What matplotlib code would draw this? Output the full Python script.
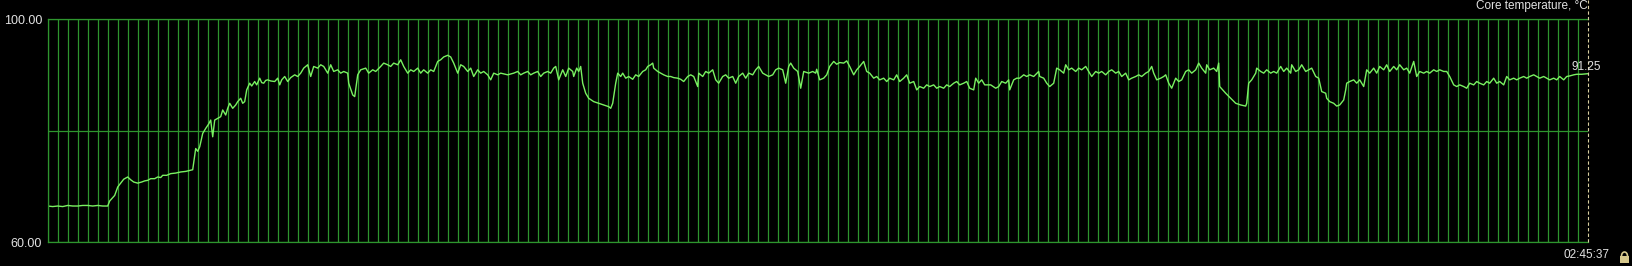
import matplotlib
matplotlib.use("Agg")
import matplotlib.pyplot as plt
from matplotlib.lines import Line2D
from matplotlib.patches import Rectangle, Arc
import numpy as np

# Core temperature log (seconds from start of window, degrees C)
seconds = [
    0, 5, 10, 15, 20, 25, 30, 35, 40, 45, 50, 55, 60, 62, 64, 67, 70, 73, 76, 80,
    83, 86, 90, 94, 97, 100, 103, 107, 110, 113, 115, 119, 123, 128, 133, 138, 143, 145, 147, 148,
    150, 152, 155, 158, 161, 163, 165, 167, 170, 173, 175, 178, 180, 182, 185, 188, 190, 193, 195, 197,
    199, 202, 204, 207, 209, 212, 214, 216, 218, 220, 223, 227, 230, 232, 234, 237, 240, 243, 247, 250,
    253, 256, 260, 263, 266, 270, 273, 276, 280, 283, 286, 290, 293, 296, 300, 301, 305, 307, 310, 313,
    318, 321, 325, 328, 333, 336, 340, 343, 346, 350, 353, 356, 360, 363, 366, 370, 373, 376, 380, 383,
    386, 390, 393, 396, 400, 403, 406, 410, 413, 416, 420, 423, 426, 430, 433, 436, 440, 443, 446, 450,
    453, 460, 466, 470, 473, 476, 480, 483, 486, 490, 493, 496, 500, 503, 506,
    508, 511, 515, 518, 521, 525, 526, 529, 531, 533, 535, 538, 541, 546, 551, 556, 561, 563, 565, 568,
    570, 573, 575, 578, 581, 585, 588, 591, 595, 598, 600, 603, 605, 606, 610, 613, 616, 620, 623, 626,
    630, 633, 636, 640, 643, 646, 650, 651, 655, 658, 661, 665, 668, 671, 675, 678, 681, 685, 688, 691,
    695, 698, 701, 705, 708, 711, 715, 718, 721, 725, 728, 731, 735, 738, 741, 743, 746, 750, 753, 756,
    761, 765, 768,
    769, 772, 776, 779, 782, 786, 789, 792, 796, 799, 802, 806, 809, 812, 816, 819, 822, 826, 829, 832,
    836, 839, 842, 846, 849, 852, 856, 859, 862, 866, 869, 872, 876, 879, 882, 886, 889, 892, 896, 899,
    902, 906, 909, 912, 916, 919, 922, 926, 928, 931, 934, 937, 943, 948, 951, 954, 958, 961, 962, 966,
    969, 972, 976, 979, 982, 986, 991, 992, 996, 999, 1002, 1006, 1009, 1012, 1016,
    1018, 1021, 1024, 1028, 1031, 1034, 1038, 1041, 1044, 1048, 1051, 1054, 1058, 1061, 1064, 1068, 1071, 1074, 1078, 1081,
    1084, 1088, 1091, 1094, 1098, 1101, 1104, 1106, 1109, 1113, 1116, 1118, 1121, 1124, 1128, 1131, 1134, 1138, 1141, 1144,
    1148, 1151, 1154, 1158, 1159, 1162, 1166, 1169, 1171, 1172, 1178, 1183, 1188, 1193, 1198, 1199, 1201, 1204, 1208, 1209,
    1213, 1216, 1219, 1223, 1226, 1229, 1233, 1236, 1239, 1243, 1244, 1248, 1251, 1254, 1258, 1261, 1264, 1268, 1271, 1274,
    1278,
    1279, 1282, 1286, 1289, 1292, 1296, 1298, 1299, 1302, 1306, 1309, 1312, 1316, 1319, 1322, 1326, 1329, 1332, 1336, 1339,
    1342, 1346, 1349, 1352, 1356, 1359, 1362, 1366, 1369, 1372, 1376, 1379, 1382, 1386, 1389, 1392, 1396, 1399, 1402, 1406,
    1409, 1412, 1416, 1419, 1422, 1426, 1429, 1432, 1436, 1439, 1442, 1446, 1449, 1452, 1456, 1459, 1462, 1466, 1469, 1472,
    1476, 1479, 1482, 1486, 1489, 1492, 1496, 1499, 1502, 1506, 1509, 1512, 1516, 1519, 1522, 1526, 1529, 1534, 1540,
]
core_temp = [
    66.5, 66.4, 66.5, 66.4, 66.6, 66.5, 66.5, 66.6, 66.6, 66.5, 66.6, 66.5, 66.5, 67.4, 67.8, 68.4, 69.9, 70.6, 71.3, 71.7,
    71.2, 70.8, 70.6, 70.8, 71.0, 71.1, 71.4, 71.4, 71.7, 71.6, 72.0, 72.0, 72.3, 72.4, 72.6, 72.7, 72.9, 73.0, 75.5, 76.8,
    76.3, 77.1, 79.5, 80.4, 81.2, 81.9, 78.9, 81.9, 82.2, 82.5, 83.7, 82.8, 84.0, 84.9, 84.0, 84.6, 85.2, 85.8, 84.9, 85.2,
    87.3, 88.5, 88.0, 88.8, 88.2, 89.4, 88.6, 88.5, 89.0, 89.1, 88.9, 88.8, 89.4, 88.2, 89.1, 89.7, 88.8, 89.5, 90.0, 89.7,
    90.3, 91.2, 91.8, 89.7, 91.5, 91.2, 91.8, 91.5, 90.3, 91.8, 90.6, 90.9, 90.3, 90.6, 90.3, 88.5, 86.4, 86.1, 90.0, 90.9,
    91.2, 90.3, 90.9, 90.6, 91.5, 92.1, 91.8, 91.5, 92.1, 91.8, 92.7, 91.5, 90.3, 90.9, 90.6, 91.2, 90.3, 90.9, 90.3, 90.9,
    90.6, 92.4, 92.7, 93.2, 93.5, 93.2, 92.1, 90.3, 91.8, 91.5, 90.6, 91.2, 89.7, 90.9, 90.3, 90.6, 90.0, 89.1, 90.3, 90.0,
    90.3, 90.0, 90.3, 90.6, 90.0, 90.3, 90.6, 90.0, 90.3, 90.6, 89.7, 90.3, 90.6, 90.3, 91.2,
    91.5, 89.1, 90.9, 89.7, 91.2, 90.6, 89.7, 91.2, 90.6, 91.5, 88.5, 86.7, 85.8, 85.2, 84.9, 84.6, 84.3, 84.0, 84.9, 88.5,
    90.3, 89.7, 90.3, 89.4, 89.7, 89.2, 90.0, 89.7, 90.6, 90.9, 91.5, 91.8, 92.1, 91.2, 90.6, 90.3, 90.0, 89.7, 89.7, 89.5,
    89.4, 89.2, 88.8, 89.7, 90.0, 89.7, 87.9, 90.3, 89.7, 90.6, 90.3, 90.9, 89.1, 88.5, 89.7, 90.0, 89.4, 89.7, 88.5, 89.7,
    90.3, 89.4, 90.3, 90.0, 90.9, 91.5, 90.3, 90.0, 89.7, 90.0, 90.9, 91.2, 90.9, 88.5, 91.5, 92.1, 91.2, 90.6, 87.6, 90.6,
    90.3, 90.6, 90.3,
    91.0, 89.1, 89.4, 90.0, 91.5, 92.4, 91.9, 92.2, 92.1, 92.5, 91.5, 90.0, 90.9, 91.5, 92.4, 90.6, 90.3, 89.4, 89.7, 89.1,
    89.4, 88.8, 89.4, 89.1, 90.0, 88.8, 89.4, 90.0, 88.5, 88.8, 87.3, 87.9, 87.6, 88.2, 87.9, 88.2, 87.6, 87.9, 87.6, 88.2,
    87.9, 88.5, 88.8, 88.2, 88.5, 88.8, 87.6, 87.3, 89.4, 88.5, 89.1, 88.2, 88.2, 87.6, 87.9, 88.8, 88.5, 89.1, 87.3, 89.1,
    89.4, 89.4, 90.0, 89.7, 90.0, 89.7, 90.6, 89.7, 89.4, 88.5, 87.9, 88.5, 91.2, 90.9, 90.3,
    91.8, 90.9, 91.2, 90.6, 91.2, 90.9, 91.5, 90.6, 89.7, 90.6, 90.3, 90.6, 90.0, 90.6, 90.9, 90.3, 90.6, 89.7, 90.3, 89.1,
    89.4, 89.7, 90.0, 89.7, 90.3, 90.6, 91.5, 90.3, 89.1, 89.4, 89.7, 90.0, 88.5, 87.6, 89.4, 88.8, 89.1, 90.6, 90.9, 90.3,
    90.9, 92.1, 91.2, 90.3, 91.8, 90.9, 91.2, 90.6, 92.1, 87.9, 86.7, 85.8, 84.9, 84.6, 84.4, 84.9, 88.5, 89.1, 90.3, 91.2,
    90.6, 90.3, 90.9, 90.3, 90.6, 90.3, 91.5, 90.6, 91.2, 90.3, 91.8, 90.6, 90.9, 91.8, 90.6, 90.9, 91.2, 89.7, 89.4, 87.0,
    86.7,
    85.8, 85.2, 84.9, 84.4, 84.6, 85.5, 87.3, 88.5, 88.8, 89.1, 88.5, 89.1, 87.9, 90.9, 90.3, 91.2, 90.3, 91.5, 90.9, 91.8,
    90.6, 91.5, 90.9, 91.8, 90.9, 91.2, 90.3, 92.4, 89.7, 90.6, 90.3, 90.6, 90.3, 90.9, 90.6, 90.9, 90.6, 90.6, 89.7, 88.2,
    87.9, 88.2, 87.9, 87.6, 88.5, 88.2, 88.8, 88.5, 88.2, 88.8, 88.5, 89.4, 88.5, 88.8, 88.2, 89.7, 89.1, 89.4, 89.1, 89.4,
    89.7, 89.4, 89.7, 90.0, 89.7, 89.4, 89.7, 89.4, 89.1, 89.4, 89.1, 89.7, 89.1, 89.7, 89.8, 90.0, 90.1, 90.1, 90.2,
]
current_temp = 91.25
y_min, y_max = 60.0, 100.0
window_len = 1540
end_time = "02:45:37"
title = "Core temperature, °C"

plt.rcParams['font.family'] = ['Liberation Sans', 'DejaVu Sans']

W, H = 1633, 266
fig = plt.figure(figsize=(W / 100, H / 100), dpi=100, facecolor='black')

left, right, top, bottom = 47.7, 1587.7, 19.0, 242.3
ax = fig.add_axes([left / W, 1 - bottom / H, (right - left) / W, (bottom - top) / H])
ax.set_facecolor('black')

grid_green = '#2e952e'
trace_green = '#7af262'
text_col = '#e2e2e2'
fs = 9
fs_small = 8.5

ax.set_xlim(0, window_len)
ax.set_ylim(y_min, y_max)
ax.set_xticks(np.arange(0, window_len, 10))
ax.set_yticks([y_min, 80, y_max])
ax.set_yticklabels([f"{y_min:.2f}", "", f"{y_max:.2f}"])
ax.set_xticklabels([])
ax.tick_params(length=0, pad=4, labelsize=fs, labelcolor=text_col)
ax.grid(True, color=grid_green, linewidth=0.9)
for name, sp in ax.spines.items():
    sp.set_color(grid_green)
    sp.set_linewidth(0.9)
ax.spines['right'].set_visible(False)

ax.plot(seconds, core_temp, color=trace_green, linewidth=1.0)

# cursor line at the newest sample
fig.add_artist(Line2D([right / W, right / W], [1 - bottom / H, 1.0], color='#d8d0a0',
                      linewidth=0.8, linestyle=(0, (3, 2))))

fig.text(right / W, 1 - 6 / H, title, ha='right', va='center', fontsize=fs_small, color=text_col)
fig.text(1586 / W, 1 - 67.5 / H, f"{current_temp:.2f}", ha='center', va='center', fontsize=fs_small, color=text_col)
fig.text(1587 / W, 1 - 255 / H, end_time, ha='center', va='center', fontsize=fs_small, color=text_col)

# small padlock symbol in the corner
lock = '#d6c88c'
fig.add_artist(Rectangle((1620 / W, 1 - 263 / H), 9 / W, 7 / H, facecolor=lock, edgecolor='none'))
fig.add_artist(Arc((1624.5 / W, 1 - 256 / H), 6 / W, 8 / H, theta1=0, theta2=180, color=lock, linewidth=1.2))

fig.savefig('out.png', dpi=100, facecolor='black')
